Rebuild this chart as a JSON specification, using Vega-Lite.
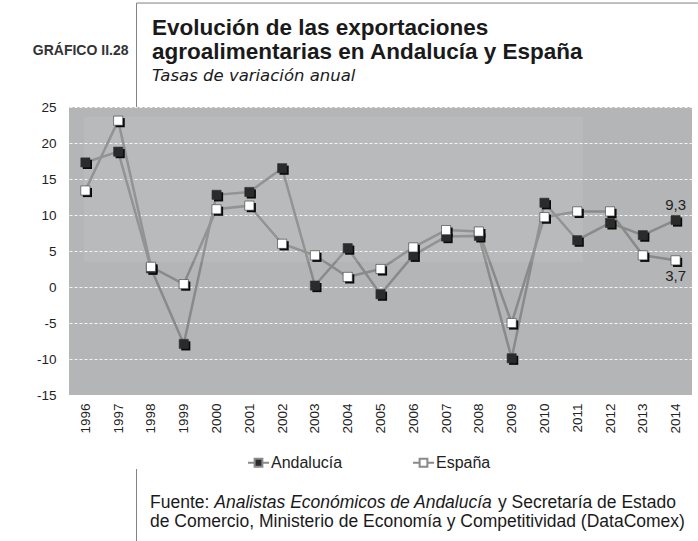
{
  "$schema": "https://vega.github.io/schema/vega-lite/v6.json",
  "width": 623,
  "height": 288,
  "autosize": {"type": "none"},
  "padding": {"left": 69, "top": 107, "right": 6, "bottom": 146},
  "background": "white",
  "config": {
    "locale": {"number": {"decimal": ",", "thousands": ".", "grouping": [3], "currency": ["", " €"], "minus": "-"}},
    "view": {"fill": "#b4b5b6", "stroke": null},
    "font": "Liberation Sans"
  },
  "title": {
    "text": ["Evolución de las exportaciones", "agroalimentarias en Andalucía y España"],
    "subtitle": "Tasas de variación anual",
    "anchor": "start",
    "frame": "group",
    "dx": 83,
    "offset": -82,
    "font": "Liberation Sans",
    "fontSize": 22.5,
    "fontWeight": "bold",
    "color": "#1a1a1a",
    "lineHeight": 24,
    "subtitleFont": "DejaVu Sans",
    "subtitleFontSize": 16.5,
    "subtitleFontStyle": "italic",
    "subtitleColor": "#1a1a1a",
    "subtitlePadding": 5
  },
  "datasets": {
    "series": [
      {"year": 1996, "serie": "Andalucía", "value": 17.3},
      {"year": 1997, "serie": "Andalucía", "value": 18.8},
      {"year": 1998, "serie": "Andalucía", "value": 2.6},
      {"year": 1999, "serie": "Andalucía", "value": -7.9},
      {"year": 2000, "serie": "Andalucía", "value": 12.8},
      {"year": 2001, "serie": "Andalucía", "value": 13.2},
      {"year": 2002, "serie": "Andalucía", "value": 16.5},
      {"year": 2003, "serie": "Andalucía", "value": 0.2},
      {"year": 2004, "serie": "Andalucía", "value": 5.4},
      {"year": 2005, "serie": "Andalucía", "value": -1.0},
      {"year": 2006, "serie": "Andalucía", "value": 4.4},
      {"year": 2007, "serie": "Andalucía", "value": 7.0},
      {"year": 2008, "serie": "Andalucía", "value": 7.1},
      {"year": 2009, "serie": "Andalucía", "value": -9.9},
      {"year": 2010, "serie": "Andalucía", "value": 11.7},
      {"year": 2011, "serie": "Andalucía", "value": 6.5},
      {"year": 2012, "serie": "Andalucía", "value": 8.9},
      {"year": 2013, "serie": "Andalucía", "value": 7.2},
      {"year": 2014, "serie": "Andalucía", "value": 9.3},
      {"year": 1996, "serie": "España", "value": 13.4},
      {"year": 1997, "serie": "España", "value": 23.1},
      {"year": 1998, "serie": "España", "value": 2.8},
      {"year": 1999, "serie": "España", "value": 0.4},
      {"year": 2000, "serie": "España", "value": 10.8},
      {"year": 2001, "serie": "España", "value": 11.3},
      {"year": 2002, "serie": "España", "value": 6.0},
      {"year": 2003, "serie": "España", "value": 4.4},
      {"year": 2004, "serie": "España", "value": 1.4},
      {"year": 2005, "serie": "España", "value": 2.5},
      {"year": 2006, "serie": "España", "value": 5.5},
      {"year": 2007, "serie": "España", "value": 7.9},
      {"year": 2008, "serie": "España", "value": 7.7},
      {"year": 2009, "serie": "España", "value": -5.0},
      {"year": 2010, "serie": "España", "value": 9.7},
      {"year": 2011, "serie": "España", "value": 10.5},
      {"year": 2012, "serie": "España", "value": 10.5},
      {"year": 2013, "serie": "España", "value": 4.4},
      {"year": 2014, "serie": "España", "value": 3.7}
    ]
  },
  "layer": [
    {
      "data": {"name": "series"},
      "mark": {"type": "line", "stroke": "#8a8a8a", "strokeWidth": 2.5},
      "encoding": {
        "x": {
          "field": "year", "type": "quantitative",
          "scale": {"domain": [1995.5, 2014.5], "nice": false, "zero": false},
          "axis": {
            "title": null,
            "values": [1996, 1997, 1998, 1999, 2000, 2001, 2002, 2003, 2004, 2005, 2006, 2007, 2008, 2009, 2010, 2011, 2012, 2013, 2014],
            "tickCount": 40,
            "format": "d",
            "labelAngle": 270,
            "labelFontSize": 13.5,
            "labelColor": "#222222",
            "labelPadding": 8,
            "labelOverlap": false,
            "labelBound": false,
            "labelFlush": false,
            "ticks": false,
            "domain": false,
            "grid": false
          }
        },
        "y": {
          "field": "value", "type": "quantitative",
          "scale": {"domain": [-15, 25], "nice": false, "zero": false},
          "axis": {
            "title": "GRÁFICO II.28",
            "titleAngle": 0,
            "titleAlign": "right",
            "titleBaseline": "alphabetic",
            "titleX": 59,
            "titleY": -53,
            "titleFont": "Liberation Sans",
            "titleFontSize": 14,
            "titleFontWeight": "bold",
            "titleColor": "#333333",
            "values": [-15, -10, -5, 0, 5, 10, 15, 20, 25],
            "tickCount": 20,
            "labelFontSize": 13.5,
            "labelColor": "#222222",
            "labelPadding": 13,
            "labelOverlap": false,
            "labelFlush": false,
            "ticks": false,
            "domain": false,
            "grid": true,
            "gridColor": "#ffffff",
            "gridDash": [3, 2],
            "gridWidth": 1,
            "gridOpacity": 0.85
          }
        },
        "detail": {"field": "serie", "type": "nominal"}
      }
    },
    {
      "data": {"values": [{}]},
      "mark": {"type": "rect", "fill": "#ffffff", "fillOpacity": 0.08},
      "encoding": {
        "x": {"datum": 1995.95, "type": "quantitative"},
        "x2": {"datum": 2011.17},
        "y": {"datum": 23.65, "type": "quantitative"},
        "y2": {"datum": 3.5}
      }
    },
    {
      "data": {"name": "series"},
      "mark": {"type": "square", "size": 84, "fill": "#0a0a0a", "opacity": 1, "xOffset": 2, "yOffset": 2},
      "encoding": {
        "x": {"field": "year", "type": "quantitative"},
        "y": {"field": "value", "type": "quantitative"}
      }
    },
    {
      "data": {"name": "series"},
      "mark": {"type": "square", "size": 84, "opacity": 1, "stroke": "#333333", "strokeWidth": 0.6},
      "encoding": {
        "x": {"field": "year", "type": "quantitative"},
        "y": {"field": "value", "type": "quantitative"},
        "fill": {
          "field": "serie", "type": "nominal",
          "scale": {"domain": ["Andalucía", "España"], "range": ["#2b2b2b", "#ffffff"]},
          "legend": {
            "title": null,
            "orient": "none",
            "direction": "horizontal",
            "legendX": 178,
            "legendY": 344,
            "padding": 0,
            "symbolType": "M-1,0H-0.37M0.37,0H1M-0.37,-0.37H0.37V0.37H-0.37Z",
            "symbolSize": 441,
            "symbolStrokeColor": "#8a8a8a",
            "symbolStrokeWidth": 2,
            "labelFont": "Liberation Sans",
            "labelFontSize": 16,
            "labelColor": "#222222",
            "labelOffset": 1,
            "columnPadding": 66
          }
        }
      }
    },
    {
      "data": {"name": "series"},
      "transform": [{"filter": "datum.year === 2014 && datum.serie === 'Andalucía'"}],
      "mark": {"type": "text", "fontSize": 15, "color": "#222222", "dy": -15},
      "encoding": {
        "x": {"field": "year", "type": "quantitative"},
        "y": {"field": "value", "type": "quantitative"},
        "text": {"field": "value", "type": "quantitative", "format": ".1f"}
      }
    },
    {
      "data": {"name": "series"},
      "transform": [{"filter": "datum.year === 2014 && datum.serie === 'España'"}],
      "mark": {"type": "text", "fontSize": 15, "color": "#222222", "dy": 16},
      "encoding": {
        "x": {"field": "year", "type": "quantitative"},
        "y": {"field": "value", "type": "quantitative"},
        "text": {"field": "value", "type": "quantitative", "format": ".1f"}
      }
    },
    {
      "data": {"values": [{}]},
      "mark": {"type": "rule", "stroke": "#808080", "strokeWidth": 1},
      "encoding": {
        "x": {"datum": 1997.56, "type": "quantitative"},
        "y": {"datum": 39.44, "type": "quantitative"},
        "y2": {"datum": 25}
      }
    },
    {
      "data": {"values": [{}]},
      "mark": {"type": "rule", "stroke": "#808080", "strokeWidth": 1},
      "encoding": {
        "x": {"datum": 1997.56, "type": "quantitative"},
        "x2": {"datum": 2014.68},
        "y": {"datum": 39.44, "type": "quantitative"}
      }
    },
    {
      "data": {"values": [{}]},
      "mark": {"type": "rule", "stroke": "#808080", "strokeWidth": 1},
      "encoding": {
        "x": {"datum": 1997.56, "type": "quantitative"},
        "y": {"datum": -25.28, "type": "quantitative"},
        "y2": {"datum": -35.4}
      }
    },
    {
      "data": {"values": [{}]},
      "mark": {"type": "text", "align": "left", "baseline": "alphabetic", "font": "Liberation Sans", "fontSize": 17.5, "color": "#1a1a1a", "text": "Fuente: "},
      "encoding": {
        "x": {"datum": 1997.97, "type": "quantitative"},
        "y": {"datum": -30.69, "type": "quantitative"}
      }
    },
    {
      "data": {"values": [{}]},
      "mark": {"type": "text", "align": "left", "baseline": "alphabetic", "font": "Liberation Sans", "fontSize": 17.5, "fontStyle": "italic", "color": "#1a1a1a", "text": "Analistas Económicos de Andalucía"},
      "encoding": {
        "x": {"datum": 1999.93, "type": "quantitative"},
        "y": {"datum": -30.69, "type": "quantitative"}
      }
    },
    {
      "data": {"values": [{}]},
      "mark": {"type": "text", "align": "left", "baseline": "alphabetic", "font": "Liberation Sans", "fontSize": 17.5, "color": "#1a1a1a", "text": "y Secretaría de Estado"},
      "encoding": {
        "x": {"datum": 2008.58, "type": "quantitative"},
        "y": {"datum": -30.69, "type": "quantitative"}
      }
    },
    {
      "data": {"values": [{}]},
      "mark": {"type": "text", "align": "left", "baseline": "alphabetic", "font": "Liberation Sans", "fontSize": 17.5, "color": "#1a1a1a", "text": "de Comercio, Ministerio de Economía y Competitividad (DataComex)"},
      "encoding": {
        "x": {"datum": 1997.97, "type": "quantitative"},
        "y": {"datum": -33.33, "type": "quantitative"}
      }
    }
  ]
}
